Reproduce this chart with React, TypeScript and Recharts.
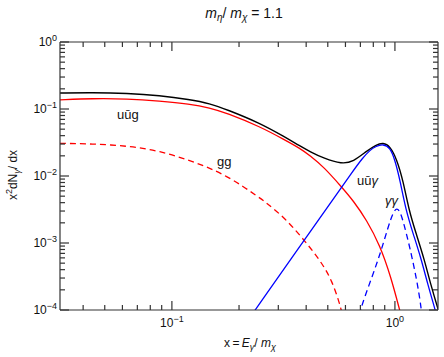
import React from "react";
import { LineChart, Line, XAxis, YAxis, Customized } from "recharts";

// x = E_gamma / m_chi
const totalX = [0.0315, 0.044, 0.063, 0.088, 0.12, 0.148, 0.176, 0.248, 0.321, 0.375, 0.416, 0.48, 0.578, 0.65, 0.75, 0.82, 0.886, 0.95, 1.018, 1.089, 1.155, 1.242, 1.349, 1.449, 1.564, 1.62];
const totalY = [0.173, 0.176, 0.1715, 0.159, 0.1387, 0.1208, 0.0983, 0.0618, 0.0382, 0.028, 0.0231, 0.0183, 0.0151, 0.0163, 0.0238, 0.029, 0.0316, 0.028, 0.018, 0.00842, 0.00311, 0.00141, 0.000597, 0.000236, 0.0001, 0.00007];

const uugX = [0.0315, 0.044, 0.063, 0.088, 0.12, 0.148, 0.176, 0.248, 0.321, 0.375, 0.416, 0.48, 0.575, 0.65, 0.747, 0.856, 0.96, 1.05, 1.08];
const uugY = [0.137, 0.1435, 0.142, 0.1316, 0.1188, 0.1042, 0.0871, 0.0548, 0.0345, 0.0259, 0.0202, 0.0136, 0.00692, 0.0043, 0.0022, 0.00093, 0.00031, 0.0001, 0.00007];

const ggX = [0.0315, 0.044, 0.063, 0.088, 0.1246, 0.176, 0.248, 0.266, 0.321, 0.388, 0.461, 0.522, 0.578, 0.6];
const ggY = [0.0307, 0.0302, 0.0282, 0.0238, 0.0165, 0.01035, 0.0047, 0.00395, 0.00236, 0.00115, 0.000557, 0.000281, 0.0001, 0.00005];

const uuaX = [0.22, 0.2356, 0.453, 0.662, 0.711, 0.773, 0.822, 0.886, 0.95, 1.0, 1.056, 1.12, 1.204, 1.308, 1.406, 1.516, 1.56];
const uuaY = [0.00007, 0.0001, 0.00218, 0.0131, 0.018, 0.0244, 0.0278, 0.03, 0.0266, 0.0175, 0.0084, 0.0031, 0.00141, 0.0006, 0.000236, 0.0001, 0.00007];

const aaX = [0.68, 0.697, 0.78, 0.86, 0.93, 0.98, 1.02, 1.06, 1.1, 1.15, 1.2, 1.26, 1.317, 1.34];
const aaY = [0.00006, 0.0001, 0.000279, 0.000696, 0.00169, 0.00285, 0.0034, 0.00285, 0.00186, 0.00104, 0.000557, 0.000253, 0.0001, 0.00005];

const xTicks = [0.04, 0.05, 0.06, 0.07, 0.08, 0.09, 0.1, 0.2, 0.3, 0.4, 0.5, 0.6, 0.7, 0.8, 0.9, 1];
const yDecades = [1e-4, 1e-3, 1e-2, 1e-1];
const yTicks = [...yDecades.flatMap((d) => [1, 2, 3, 4, 5, 6, 7, 8, 9].map((m) => m * d)), 1];

const zip = (xs: number[], ys: number[]) => xs.map((x, i) => ({ x, y: ys[i] }));

const FONT = '"Liberation Sans", Arial, Helvetica, sans-serif';
const AXIS = "#333";

const isDecade = (v: number) => Math.abs(Math.log10(v) - Math.round(Math.log10(v))) < 1e-6;
const expo = (v: number) => {
  const e = Math.round(Math.log10(v));
  return e < 0 ? "\u2212" + -e : String(e);
};

function tickFor(side: "bottom" | "top" | "left" | "right") {
  return (props: any) => {
    const { x, y, payload } = props;
    const v = payload.value;
    const major = isDecade(v);
    const len = major ? 9 : 5;
    let line;
    if (side === "bottom") line = <line x1={x} x2={x} y1={y} y2={y - len} stroke={AXIS} strokeWidth={1.2} />;
    else if (side === "top") line = <line x1={x} x2={x} y1={y} y2={y + len} stroke={AXIS} strokeWidth={1.2} />;
    else if (side === "left") line = <line x1={x} x2={x + len} y1={y} y2={y} stroke={AXIS} strokeWidth={1.2} />;
    else line = <line x1={x} x2={x - len} y1={y} y2={y} stroke={AXIS} strokeWidth={1.2} />;
    let label = null;
    if (major && side === "bottom") {
      label = (
        <text x={x} y={y + 17} textAnchor="middle" fontSize={12} fontFamily={FONT} fill="#111">
          10<tspan dy={-5} fontSize={9}>{expo(v)}</tspan>
        </text>
      );
    }
    if (major && side === "left") {
      label = (
        <text x={x - 3} y={y + 4} textAnchor="end" fontSize={12} fontFamily={FONT} fill="#111">
          10<tspan dy={-5} fontSize={9}>{expo(v)}</tspan>
        </text>
      );
    }
    return (
      <g>
        {line}
        {label}
      </g>
    );
  };
}

function Labels() {
  return (
    <g fontFamily={FONT} fill="#111">
      <text x={244} y={18} textAnchor="middle" fontSize={14}>
        <tspan fontStyle="italic">m</tspan>
        <tspan fontSize={10} dy={3} fontStyle="italic">η</tspan>
        <tspan dy={-3}>/</tspan>
        <tspan fontStyle="italic"> m</tspan>
        <tspan fontSize={10} dy={3} fontStyle="italic">χ</tspan>
        <tspan dy={-3}>{"  = 1.1"}</tspan>
      </text>
      <text x={250} y={347} textAnchor="middle" fontSize={12}>
        x
        <tspan>{"\u2009=\u2009"}</tspan>
        <tspan fontStyle="italic">E</tspan>
        <tspan fontSize={9} dy={3} fontStyle="italic">γ</tspan>
        <tspan dy={-3}>/</tspan>
        <tspan fontStyle="italic"> m</tspan>
        <tspan fontSize={9} dy={3} fontStyle="italic">χ</tspan>
      </text>
      <text x={17} y={175} textAnchor="middle" fontSize={12} transform="rotate(-90 17 175)">
        x<tspan fontSize={9} dy={-5}>2</tspan>
        <tspan dy={5}>dN</tspan>
        <tspan fontSize={9} dy={3} fontStyle="italic">γ</tspan>
        <tspan dy={-3}>/ dx</tspan>
      </text>
      <text x={117} y={119} fontSize={13}>uūg</text>
      <text x={217} y={166} fontSize={13}>gg</text>
      <text x={357} y={185} fontSize={13}>
        uū<tspan fontStyle="italic">γ</tspan>
      </text>
      <text x={385} y={205} fontSize={13} fontStyle="italic">γγ</text>
    </g>
  );
}

export default function App() {
  const xDomain = [0.0315, 1.56];
  const yDomain = [1e-4, 1];
  return (
    <div style={{ position: "absolute", left: 0, top: 0, width: 444, height: 357, background: "#fff" }}>
      <LineChart width={444} height={357} margin={{ top: 0, right: 0, bottom: 0, left: 0 }}>
        <XAxis xAxisId="b" type="number" dataKey="x" scale="log" domain={xDomain} allowDataOverflow ticks={xTicks} interval={0}
          orientation="bottom" height={47} tickSize={0} tickMargin={0} tickLine={false} axisLine={{ stroke: AXIS, strokeWidth: 1.2 }} tick={tickFor("bottom")} />
        <XAxis xAxisId="t" type="number" dataKey="x" scale="log" domain={xDomain} allowDataOverflow ticks={xTicks} interval={0}
          orientation="top" height={42} tickSize={0} tickMargin={0} tickLine={false} axisLine={{ stroke: AXIS, strokeWidth: 1.2 }} tick={tickFor("top")} />
        <YAxis yAxisId="l" type="number" dataKey="y" scale="log" domain={yDomain} allowDataOverflow ticks={yTicks} interval={0}
          orientation="left" width={60} tickSize={0} tickMargin={0} tickLine={false} axisLine={{ stroke: AXIS, strokeWidth: 1.2 }} tick={tickFor("left")} />
        <YAxis yAxisId="r" type="number" dataKey="y" scale="log" domain={yDomain} allowDataOverflow ticks={yTicks} interval={0}
          orientation="right" width={6} tickSize={0} tickMargin={0} tickLine={false} axisLine={{ stroke: AXIS, strokeWidth: 1.2 }} tick={tickFor("right")} />
        <Line xAxisId="b" yAxisId="l" data={zip(totalX, totalY)} dataKey="y" type="basis" stroke="#000" strokeWidth={1.4} dot={false} isAnimationActive={false} />
        <Line xAxisId="b" yAxisId="l" data={zip(uugX, uugY)} dataKey="y" type="basis" stroke="#ff0000" strokeWidth={1.3} dot={false} isAnimationActive={false} />
        <Line xAxisId="b" yAxisId="l" data={zip(ggX, ggY)} dataKey="y" type="basis" stroke="#ff0000" strokeWidth={1.3} strokeDasharray="6 4" dot={false} isAnimationActive={false} />
        <Line xAxisId="b" yAxisId="l" data={zip(uuaX, uuaY)} dataKey="y" type="basis" stroke="#0000ff" strokeWidth={1.3} dot={false} isAnimationActive={false} />
        <Line xAxisId="b" yAxisId="l" data={zip(aaX, aaY)} dataKey="y" type="basis" stroke="#0000ff" strokeWidth={1.3} strokeDasharray="6 4" dot={false} isAnimationActive={false} />
        <Customized component={Labels} />
      </LineChart>
    </div>
  );
}
